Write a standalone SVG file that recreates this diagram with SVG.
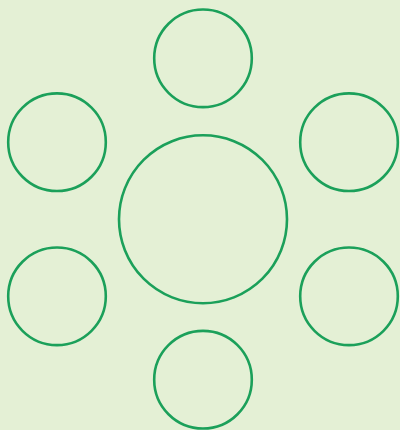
<svg xmlns="http://www.w3.org/2000/svg" width="400" height="430" viewBox="0 0 400 430">
<style>
.n{fill:none;stroke:#1ba05a;stroke-width:2.6}
</style>
<rect width="400" height="430" fill="#e4f0d5"/>
<g id="connectors"/>
<g id="center"><circle class="n" cx="203" cy="219.3" r="84"/></g>
<g id="top"><circle class="n" cx="203" cy="58.3" r="48.8"/></g>
<g id="upper-left"><circle class="n" cx="57" cy="142.2" r="48.8"/></g>
<g id="upper-right"><circle class="n" cx="349" cy="142.2" r="48.8"/></g>
<g id="lower-left"><circle class="n" cx="57" cy="296.3" r="48.8"/></g>
<g id="lower-right"><circle class="n" cx="349" cy="296.3" r="48.8"/></g>
<g id="bottom"><circle class="n" cx="203" cy="379.7" r="48.8"/></g>
</svg>
